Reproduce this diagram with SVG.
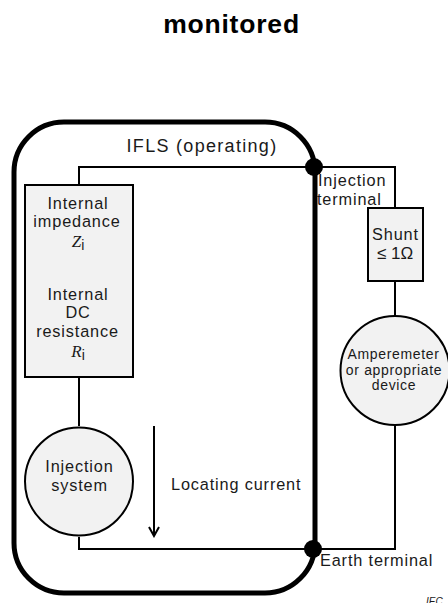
<svg xmlns="http://www.w3.org/2000/svg" width="448" height="603" viewBox="0 0 448 603">
<style>
text{font-family:"Liberation Sans",Arial,sans-serif;font-size:16.3px;fill:#1a1a1a;text-anchor:middle;letter-spacing:.85px}
.s{font-size:14px;letter-spacing:.65px}
.v{font-family:"Liberation Serif","Times New Roman",serif;font-style:italic;letter-spacing:0;font-size:17px}
.sub{font-style:normal;font-family:"Liberation Sans",Arial,sans-serif;font-size:14px}
.n{fill:#f2f2f2;stroke:#000;stroke-width:2px}
.w{fill:none;stroke:#000;stroke-width:2px}
</style>
<defs><marker id="a" markerWidth="12" markerHeight="12" refX="10" refY="6" orient="auto" markerUnits="userSpaceOnUse"><path d="M1 1 10 6 1 11" fill="none" stroke="#000" stroke-width="2"/></marker></defs>
<text x="231.500" y="33" style="font-size:26.500px;font-weight:bold;letter-spacing:.8px;fill:#000">monitored</text>
<g id="ifls"><rect x="14" y="122" width="301" height="471" rx="50" ry="50" fill="none" stroke="#000" stroke-width="5"/>
<text x="202" y="152" style="font-size:18px;letter-spacing:1.3px">IFLS (operating)</text></g>
<g id="connectors">
<path class="w" d="M79 185V167H395V208M395 281V315M395 426V549H79V537M79 377V426"/>
<path class="w" d="M154 426V536" marker-end="url(#a)"/>
</g>
<g id="impedance"><rect class="n" x="25" y="185" width="108" height="192"/>
<text x="78" y="209">Internal</text><text x="77" y="227">impedance</text>
<text x="78" y="247" class="v">Z<tspan class="sub" dy="3">i</tspan></text>
<text x="78" y="300">Internal</text><text x="78" y="318">DC</text><text x="77.500" y="337">resistance</text>
<text x="78" y="357" class="v">R<tspan class="sub" dy="3">i</tspan></text></g>
<g id="injection"><circle class="n" cx="79" cy="481.500" r="54"/>
<text x="79.500" y="472">Injection</text><text x="79.500" y="491">system</text></g>
<g id="shunt"><rect class="n" x="368" y="208" width="55" height="73"/>
<text x="395.500" y="240">Shunt</text><text x="395" y="259" style="letter-spacing:0;font-size:17px">≤ 1Ω</text></g>
<g id="meter"><circle class="n" cx="395" cy="370.500" r="54.500"/>
<text x="393.500" y="359" class="s">Amperemeter</text><text x="394" y="375" class="s">or appropriate</text><text x="394" y="390" class="s">device</text></g>
<g id="injection-terminal"><circle cx="314" cy="167" r="9"/>
<text x="318" y="186" style="text-anchor:start">Injection</text><text x="317" y="205" style="text-anchor:start">terminal</text></g>
<g id="earth-terminal"><circle cx="313" cy="549" r="9"/>
<text x="320" y="566" style="text-anchor:start">Earth terminal</text></g>
<text x="171" y="490" style="text-anchor:start">Locating current</text>
<text x="426" y="605" style="text-anchor:start;font-size:10px;font-style:italic;letter-spacing:0">IEC</text>
</svg>
